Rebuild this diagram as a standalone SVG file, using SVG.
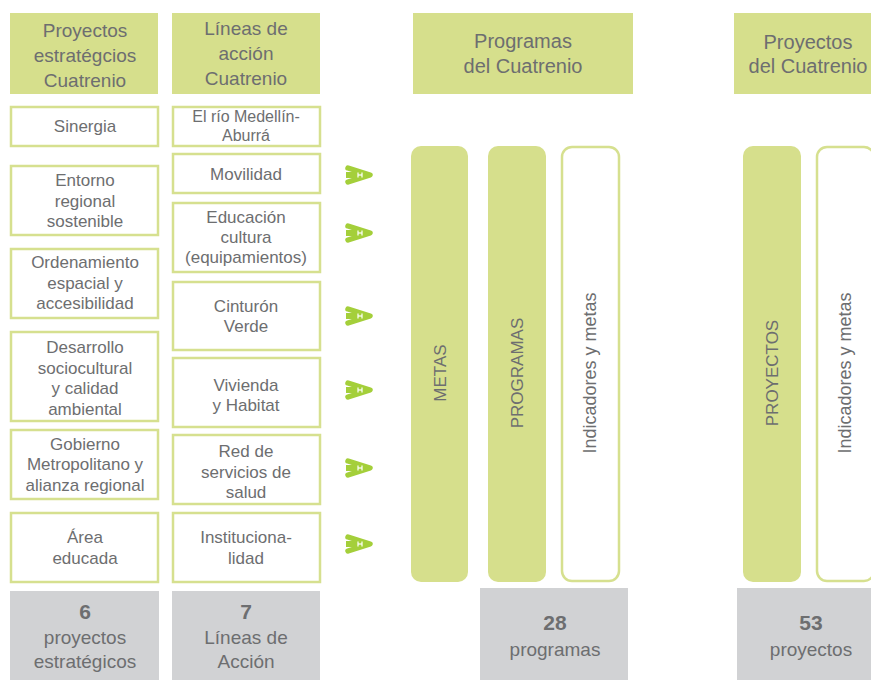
<svg xmlns="http://www.w3.org/2000/svg" width="871" height="680" viewBox="0 0 871 680">
<defs>
<style>
.hdr{fill:#d6df8c}
.box{fill:#fff;stroke:#d6e08f;stroke-width:2.5}
.gray{fill:#d1d2d4}
.pill{fill:#d6df8c}
.pillo{fill:#fff;stroke:#d6e08f;stroke-width:2.5}
text{font-family:"Liberation Sans",Arial,sans-serif;fill:#6d6e70;text-anchor:middle}
.h{font-size:19px}
.h3{font-size:20px}
.t{font-size:17px}
.ts{font-size:16px}
.n{font-size:21px;font-weight:bold}
.v{font-size:17px}
.vi{font-size:18px}
.arr{fill:none;stroke:#a4cf3a;stroke-width:5.5;stroke-linecap:round;stroke-linejoin:round}
.sh{stroke:#a4cf3a;stroke-width:6}
.wm{stroke:#fff;stroke-width:1.2}
</style>
<g id="arrowIcon">
<polyline class="arr" points="348,-7 370,0 348,7"/>
<line class="sh" x1="346" y1="0" x2="365" y2="0"/>
<line class="wm" x1="358" y1="-2.5" x2="358" y2="2.5"/>
<line class="wm" x1="362" y1="-2.5" x2="362" y2="2.5"/>
<line class="wm" x1="358" y1="0" x2="362" y2="0"/>
</g>
</defs>
<rect width="871" height="680" fill="#fff"/>

<g id="hdr1"><rect class="hdr" x="10" y="13" width="148" height="81"/>
<text class="h" x="85" y="37">Proyectos</text><text class="h" x="85" y="62">estratégcios</text><text class="h" x="85" y="87">Cuatrenio</text></g>
<g id="hdr2"><rect class="hdr" x="172" y="13" width="148" height="81"/>
<text class="h" x="246" y="35">Líneas de</text><text class="h" x="246" y="60">acción</text><text class="h" x="246" y="85">Cuatrenio</text></g>
<g id="hdr3"><rect class="hdr" x="413" y="13" width="220" height="81"/>
<text class="h3" x="523" y="48">Programas</text><text class="h3" x="523" y="73">del Cuatrenio</text></g>
<g id="hdr4"><rect class="hdr" x="734" y="13" width="148" height="81"/>
<text class="h3" x="808" y="49">Proyectos</text><text class="h3" x="808" y="73">del Cuatrenio</text></g>

<g id="p1"><rect class="box" x="11" y="107" width="147" height="39"/><text class="t" x="85" y="132">Sinergia</text></g>
<g id="p2"><rect class="box" x="11" y="166" width="147" height="69"/><text class="t" x="85" y="186">Entorno</text><text class="t" x="85" y="207">regional</text><text class="t" x="85" y="227">sostenible</text></g>
<g id="p3"><rect class="box" x="11" y="249" width="147" height="69"/><text class="t" x="85" y="268">Ordenamiento</text><text class="t" x="85" y="289">espacial y</text><text class="t" x="85" y="309">accesibilidad</text></g>
<g id="p4"><rect class="box" x="11" y="332" width="147" height="89"/><text class="t" x="85" y="353">Desarrollo</text><text class="t" x="85" y="374">sociocultural</text><text class="t" x="85" y="394">y calidad</text><text class="t" x="85" y="415">ambiental</text></g>
<g id="p5"><rect class="box" x="11" y="430" width="147" height="69"/><text class="t" x="85" y="450">Gobierno</text><text class="t" x="85" y="470">Metropolitano y</text><text class="t" x="85" y="491">alianza regional</text></g>
<g id="p6"><rect class="box" x="11" y="513" width="147" height="69"/><text class="t" x="85" y="543">Área</text><text class="t" x="85" y="564">educada</text></g>

<g id="l1"><rect class="box" x="173" y="107" width="147" height="39"/><text class="ts" x="246" y="122">El río Medellín-</text><text class="ts" x="246" y="141">Aburrá</text></g>
<g id="l2"><rect class="box" x="173" y="154" width="147" height="39"/><text class="t" x="246" y="180">Movilidad</text></g>
<g id="l3"><rect class="box" x="173" y="203" width="147" height="69"/><text class="t" x="246" y="223">Educación</text><text class="t" x="246" y="243">cultura</text><text class="t" x="246" y="263">(equipamientos)</text></g>
<g id="l4"><rect class="box" x="173" y="282" width="147" height="68"/><text class="t" x="246" y="312">Cinturón</text><text class="t" x="246" y="332">Verde</text></g>
<g id="l5"><rect class="box" x="173" y="358" width="147" height="69"/><text class="t" x="246" y="391">Vivienda</text><text class="t" x="246" y="411">y Habitat</text></g>
<g id="l6"><rect class="box" x="173" y="435" width="147" height="69"/><text class="t" x="246" y="457">Red de</text><text class="t" x="246" y="478">servicios de</text><text class="t" x="246" y="498">salud</text></g>
<g id="l7"><rect class="box" x="173" y="513" width="147" height="69"/><text class="t" x="246" y="543">Instituciona-</text><text class="t" x="246" y="564">lidad</text></g>

<g id="connectors">
<use href="#arrowIcon" y="175"/>
<use href="#arrowIcon" y="233"/>
<use href="#arrowIcon" y="316"/>
<use href="#arrowIcon" y="390"/>
<use href="#arrowIcon" y="468"/>
<use href="#arrowIcon" y="544"/>
</g>

<g id="metas"><rect class="pill" x="411" y="146" width="57" height="436" rx="10"/><text class="v" transform="translate(446,373) rotate(-90)">METAS</text></g>
<g id="programas"><rect class="pill" x="488" y="146" width="58" height="436" rx="10"/><text class="v" transform="translate(523,373) rotate(-90)">PROGRAMAS</text></g>
<g id="ind1"><rect class="pillo" x="562" y="147" width="57" height="434" rx="10"/><text class="vi" transform="translate(596,373) rotate(-90)">Indicadores y metas</text></g>
<g id="proyectos"><rect class="pill" x="743" y="146" width="58" height="436" rx="10"/><text class="v" transform="translate(778,373) rotate(-90)">PROYECTOS</text></g>
<g id="ind2"><rect class="pillo" x="817" y="147" width="57" height="434" rx="10"/><text class="vi" transform="translate(851,373) rotate(-90)">Indicadores y metas</text></g>

<g id="s1"><rect class="gray" x="10" y="591" width="149" height="89"/><text class="n" x="85" y="619">6</text><text class="h" x="85" y="644">proyectos</text><text class="h" x="85" y="668">estratégicos</text></g>
<g id="s2"><rect class="gray" x="172" y="591" width="148" height="89"/><text class="n" x="246" y="619">7</text><text class="h" x="246" y="644">Líneas de</text><text class="h" x="246" y="668">Acción</text></g>
<g id="s3"><rect class="gray" x="480" y="588" width="148" height="92"/><text class="n" x="555" y="630">28</text><text class="h" x="555" y="656">programas</text></g>
<g id="s4"><rect class="gray" x="737" y="588" width="140" height="92"/><text class="n" x="811" y="630">53</text><text class="h" x="811" y="656">proyectos</text></g>
</svg>
